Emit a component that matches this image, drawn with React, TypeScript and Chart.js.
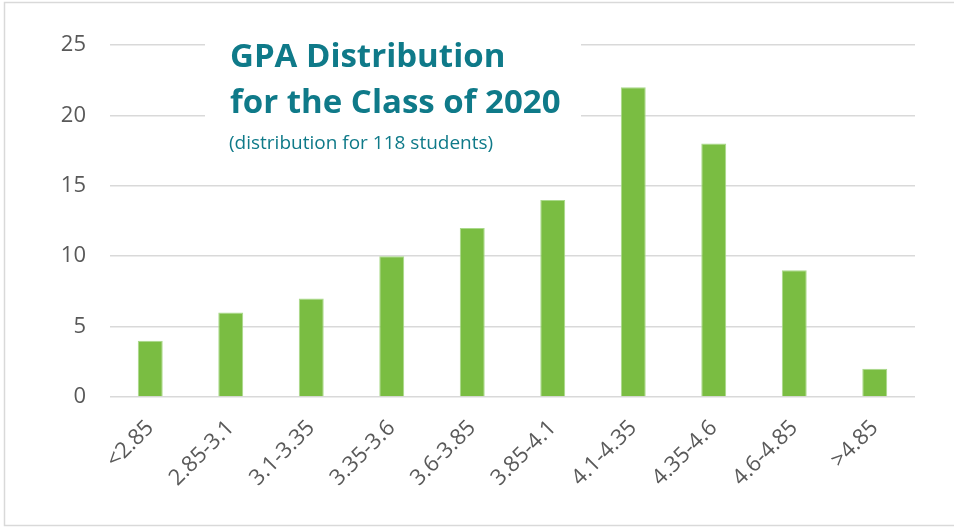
import React, { useEffect, useRef } from "react";
import { Chart, registerables } from "chart.js";

Chart.register(...registerables);

const categories = ["<2.85", "2.85-3.1", "3.1-3.35", "3.35-3.6", "3.6-3.85", "3.85-4.1", "4.1-4.35", "4.35-4.6", "4.6-4.85", ">4.85"];
const counts = [4, 6, 7, 10, 12, 14, 22, 18, 9, 2];
const yTicks = [0, 5, 10, 15, 20, 25];
const titleLines = ["GPA Distribution", "for the Class of 2020"];
const subtitle = "(distribution for 118 students)";

const FONT = "'Open Sans', 'Noto Sans', sans-serif";
const TEAL = "#0f7a89";

const overlayPlugin = {
  id: "overlay",
  beforeDraw(chart: any) {
    const ctx = chart.ctx;
    ctx.save();
    ctx.fillStyle = "#ffffff";
    ctx.fillRect(0, 0, chart.width, chart.height);
    ctx.strokeStyle = "#d9d9d9";
    ctx.lineWidth = 1.5;
    ctx.strokeRect(4.5, 2.5, chart.width + 10, chart.height - 4);
    ctx.restore();
  },
  afterDraw(chart: any) {
    const ctx = chart.ctx;
    ctx.save();
    ctx.fillStyle = "#ffffff";
    ctx.fillRect(205, 36, 376, 92);
    ctx.fillStyle = TEAL;
    ctx.textAlign = "left";
    ctx.textBaseline = "alphabetic";
    ctx.font = `bold 33px ${FONT}`;
    ctx.fillText(titleLines[0], 230, 67);
    ctx.fillText(titleLines[1], 230, 113);
    ctx.font = `19px ${FONT}`;
    ctx.fillText(subtitle, 229, 149);
    ctx.restore();
  },
};

export default function App() {
  const ref = useRef<HTMLCanvasElement | null>(null);
  useEffect(() => {
    if (!ref.current) return;
    const chart = new Chart(ref.current, {
      type: "bar",
      data: {
        labels: categories,
        datasets: [
          {
            data: counts,
            backgroundColor: "#7abd42",
            borderColor: "#a9d98a",
            borderWidth: 1,
            barPercentage: 0.31,
            categoryPercentage: 1,
          },
        ],
      },
      options: {
        responsive: false,
        animation: false,
        layout: { padding: { left: 0, top: 45, right: 39, bottom: 0 } },
        plugins: { legend: { display: false }, tooltip: { enabled: false } },
        scales: {
          x: {
            grid: { display: false },
            border: { display: false },
            ticks: {
              color: "#595959",
              font: { family: FONT, size: 22 },
              minRotation: 45,
              maxRotation: 45,
              padding: 10,
            },
            afterFit(scale: any) {
              scale.height = 130;
            },
          },
          y: {
            min: 0,
            max: 25,
            afterBuildTicks(scale: any) {
              scale.ticks = yTicks.map((v) => ({ value: v }));
            },
            grid: { color: "#d9d9d9", lineWidth: 1.5, drawTicks: false },
            border: { display: false },
            ticks: {
              color: "#595959",
              font: { family: FONT, size: 22 },
              padding: 24,
            },
            afterFit(scale: any) {
              scale.width = 110;
            },
          },
        },
      },
      plugins: [overlayPlugin],
    });
    return () => chart.destroy();
  }, []);
  return (
    <div style={{ position: "absolute", left: 0, top: 0, width: 954, height: 527 }}>
      <canvas ref={ref} width={954} height={527} style={{ display: "block" }} />
    </div>
  );
}
